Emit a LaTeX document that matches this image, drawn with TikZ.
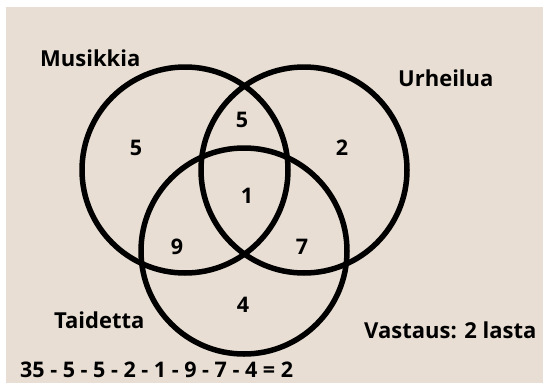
\documentclass[tikz,border=0pt]{standalone}
\usepackage{fontspec}
\setmainfont{Open Sans}
\definecolor{paper}{RGB}{232,222,211}
\tikzset{
  set/.style={circle, draw, line width=5.5pt, minimum size=206pt, inner sep=0pt},
  setname/.style={anchor=base west, inner sep=0pt, font=\bfseries\fontsize{22}{26}\selectfont},
  count/.style={inner sep=0pt, font=\bfseries\fontsize{21.5}{24}\selectfont}
}
\begin{document}
\begin{tikzpicture}[x=1pt,y=-1pt]
      \fill[white] (0,0) rectangle (543,383);
      \fill[paper] (6,7) rectangle (543,383);
      \useasboundingbox (0,0) rectangle (543,383);
      \draw
        (185,170) node[set] (M){}
        (304,170) node[set] (U){}
        (244,251) node[set] (T){};
      \draw
        (40,66.7) node[setname] (m){Musikkia}
        (398,86.7) node[setname] (u){Urheilua}
        (54,328) node[setname] (t){Taidetta}
        (364,338) node[setname] (ans){Vastaus: 2 lasta}
        (20,377) node[setname, font=\bfseries\fontsize{21.5}{26}\selectfont] (calc){35 - 5 - 5 - 2 - 1 - 9 - 7 - 4 = 2};
      \begin{scope}[every node/.style={count}]
        \node (m0) at (136,148) {5};
        \node (mu) at (242,120) {5};
        \node (u0) at (342,148) {2};
        \node (mut) at (247,196) {1};
        \node (mt) at (177,247) {9};
        \node (ut) at (302,247) {7};
        \node (t0) at (243,305) {4};
      \end{scope}
    \end{tikzpicture}
\end{document}
